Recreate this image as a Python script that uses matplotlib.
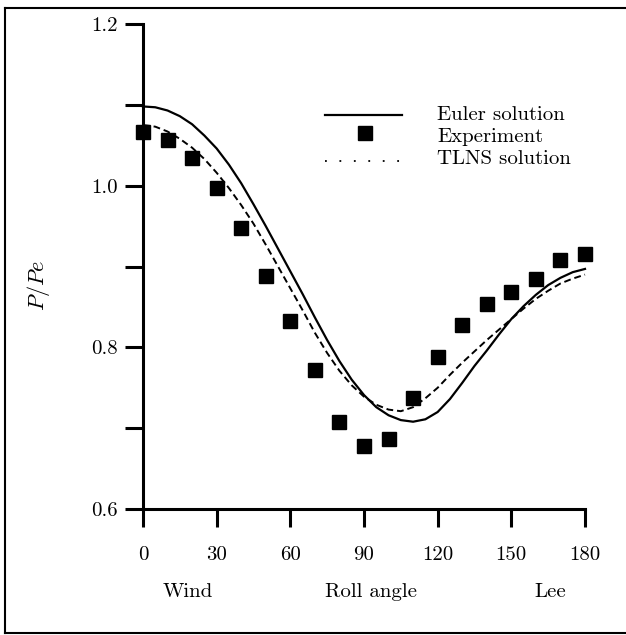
import matplotlib
matplotlib.use("Agg")
import matplotlib.pyplot as plt
from matplotlib.lines import Line2D

plt.rcParams['font.family'] = ['cmr10', 'DejaVu Serif']
plt.rcParams['mathtext.fontset'] = 'cm'
plt.rcParams['axes.formatter.use_mathtext'] = True

# experiment: pressure ratio against roll angle
exp_angle = [0, 10, 20, 30, 40, 50, 60, 70, 80, 90, 100, 110, 120, 130, 140, 150, 160, 170, 180]
exp_p = [1.067, 1.056, 1.034, 0.997, 0.948, 0.888, 0.833, 0.772, 0.708, 0.678,
         0.687, 0.737, 0.788, 0.828, 0.854, 0.868, 0.885, 0.908, 0.915]

# Euler solution
euler_angle = [0, 5, 10, 15, 20, 25, 30, 35, 40, 45, 50, 55, 60, 65, 70, 75, 80, 85, 90,
               95, 100, 105, 110, 115, 120, 125, 130, 135, 140, 145, 150, 155, 160,
               165, 170, 175, 180]
euler_p = [1.098, 1.097, 1.093, 1.086, 1.076, 1.062, 1.046, 1.026, 1.003, 0.977, 0.950,
           0.922, 0.894, 0.866, 0.837, 0.809, 0.783, 0.760, 0.741, 0.726, 0.716, 0.710,
           0.708, 0.711, 0.720, 0.736, 0.756, 0.777, 0.796, 0.816, 0.835, 0.851, 0.865,
           0.877, 0.886, 0.893, 0.897]

# thin-layer Navier-Stokes solution
tlns_angle = euler_angle
tlns_p = [1.075, 1.073, 1.067, 1.058, 1.047, 1.033, 1.016, 0.997, 0.976, 0.953, 0.927,
          0.900, 0.873, 0.846, 0.818, 0.793, 0.771, 0.753, 0.739, 0.729, 0.723, 0.721,
          0.726, 0.737, 0.750, 0.766, 0.781, 0.795, 0.809, 0.822, 0.835, 0.848, 0.860,
          0.870, 0.879, 0.885, 0.890]

x_ticks = [0, 30, 60, 90, 120, 150, 180]
y_ticks = [0.6, 0.7, 0.8, 0.9, 1.0, 1.1, 1.2]
y_labels = ['0.6', '', '0.8', '', '1.0', '', '1.2']
legend_labels = ['Euler solution', 'Experiment', 'TLNS solution']

fig = plt.figure(figsize=(6.26, 6.35), dpi=100)
ax = fig.add_axes([0.2284, 0.1984, 0.7061, 0.7638])

ax.plot(euler_angle, euler_p, color='black', lw=1.6, clip_on=False)
ax.plot(tlns_angle, tlns_p, color='black', lw=1.4, linestyle=(0, (3.5, 2)), clip_on=False)
ax.plot(exp_angle, exp_p, linestyle='none', marker='s', color='black', markersize=9.5,
        clip_on=False, zorder=5)

ax.set_xlim(0, 180)
ax.set_ylim(0.6, 1.2)
ax.set_xticks(x_ticks)
ax.set_xticklabels([str(v) for v in x_ticks])
ax.set_yticks(y_ticks)
ax.set_yticklabels(y_labels)

for side in ['top', 'right']:
    ax.spines[side].set_visible(False)
for side in ['left', 'bottom']:
    ax.spines[side].set_linewidth(2.2)
ax.tick_params(axis='both', direction='out', length=13, width=2.2, labelsize=15)
ax.tick_params(axis='x', pad=14)
ax.tick_params(axis='y', pad=5)

# region names under the roll-angle axis
for xpos, name in [(18.3, 'Wind'), (92.8, 'Roll angle'), (165.7, 'Lee')]:
    ax.text(xpos, -0.171, name, transform=ax.get_xaxis_transform(),
            ha='center', va='center', fontsize=15)

fig.text(38 / 626, 1 - 285 / 635, r'$P/Pe$', rotation=90, ha='center', va='center',
         fontsize=16)

# key, drawn in axes fraction
ta = ax.transAxes
ax.plot([0.412, 0.586], [0.812, 0.812], color='black', lw=1.6, transform=ta)
ax.plot([0.502], [0.775], linestyle='none', marker='s', color='black', markersize=9.5,
        transform=ta)
ax.plot([0.412, 0.586], [0.718, 0.718], color='black', lw=1.3, linestyle=(0, (1, 7)),
        transform=ta)
for row, label in enumerate(legend_labels):
    ax.text(0.665, 0.812 - row * 0.045, label, transform=ta, ha='left', va='center',
            fontsize=15)

# outer frame
frame = dict(color='black', lw=1.5, transform=fig.transFigure)
fig.add_artist(Line2D([5 / 626, 1], [1 - 8 / 635] * 2, **frame))
fig.add_artist(Line2D([5 / 626] * 2, [1 - 8 / 635, 1 - 633 / 635], **frame))
fig.add_artist(Line2D([5 / 626, 1], [1 - 633 / 635] * 2, **frame))

fig.savefig('out.png', dpi=100)
